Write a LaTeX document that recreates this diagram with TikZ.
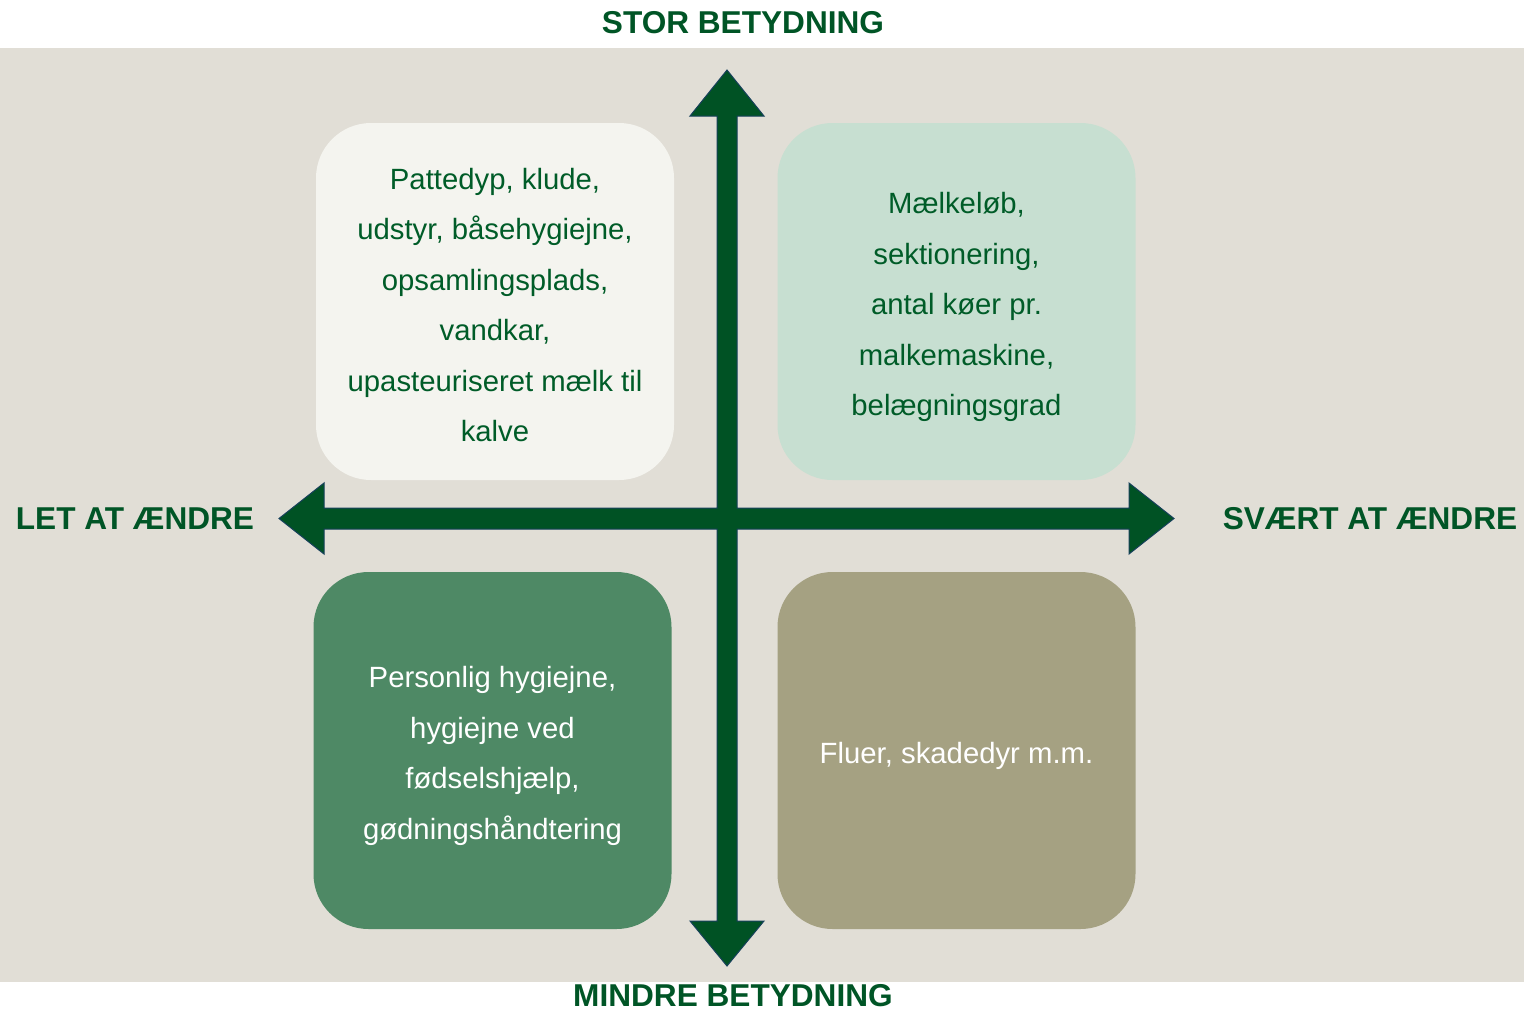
\documentclass[tikz,border=0pt]{standalone}
\usepackage{fontspec}
\setmainfont{Liberation Sans}
\definecolor{bgbeige}{RGB}{225,222,214}
\definecolor{labgreen}{RGB}{0,85,38}
\definecolor{arrgreen}{RGB}{0,82,36}
\definecolor{arredge}{RGB}{22,64,90}
\definecolor{boxA}{RGB}{244,244,239}
\definecolor{boxB}{RGB}{199,223,209}
\definecolor{boxC}{RGB}{78,137,101}
\definecolor{boxD}{RGB}{165,161,130}
\definecolor{txtgreen}{RGB}{0,92,40}
\tikzset{
  quad/.style={rounded corners=55pt, minimum width=358pt, minimum height=357pt, inner sep=0pt},
  quadtext/.style={inner sep=0pt, align=center, font={\fontsize{29.3}{50.5}\selectfont}},
  axislabel/.style={text=labgreen, font={\fontsize{31.6}{36}\selectfont\bfseries}, inner sep=0pt}
}
\begin{document}
\begin{tikzpicture}[x=1pt,y=-1pt]
\useasboundingbox (0,0) rectangle (1524,1010);
\fill[white] (0,0) rectangle (1524,1010);
\fill[bgbeige] (0,48) rectangle (1524,982);

% quadrants
\node[quad, fill=boxA] (tl) at (495,301.5) {};
\node[quad, fill=boxB] (tr) at (956.5,301.5) {};
\node[quad, fill=boxC] (bl) at (492.5,750.5) {};
\node[quad, fill=boxD] (br) at (956.5,750.5) {};
\node[quadtext, text=txtgreen] (tltext) at ([yshift=-3.5pt]tl.center) {Pattedyp, klude,\\udstyr, båsehygiejne,\\opsamlingsplads,\\vandkar,\\upasteuriseret mælk til\\kalve};
\node[quadtext, text=txtgreen] (trtext) at ([yshift=-5.5pt]tr.center) {Mælkeløb,\\sektionering,\\antal køer pr.\\malkemaskine,\\belægningsgrad};
\node[quadtext, text=white] (bltext) at ([yshift=-5.5pt]bl.center) {Personlig hygiejne,\\hygiejne ved\\fødselshjælp,\\gødningshåndtering};
\node[quadtext, text=white] (brtext) at ([yshift=-5pt]br.center) {Fluer, skadedyr m.m.};

% cross of arrows
\draw[fill=arrgreen, draw=arredge, line width=1pt, line join=miter]
  (727,70) -- (764,116) -- (737,116) -- (737,508) -- (1129,508) -- (1129,483)
  -- (1174,518.5) -- (1129,554) -- (1129,529) -- (737,529) -- (737,921)
  -- (764,921) -- (727,966) -- (690,921) -- (717,921) -- (717,529)
  -- (324,529) -- (324,554) -- (279,518.5) -- (324,483) -- (324,508)
  -- (717,508) -- (717,116) -- (690,116) -- cycle;

% axis labels
\node[axislabel] (top) at (743,22.5) {STOR BETYDNING};
\node[axislabel] (bottom) at (733,995.5) {MINDRE BETYDNING};
\node[axislabel] (left) at (135,518.5) {LET AT ÆNDRE};
\node[axislabel] (right) at (1370,518.5) {SVÆRT AT ÆNDRE};
\end{tikzpicture}
\end{document}
